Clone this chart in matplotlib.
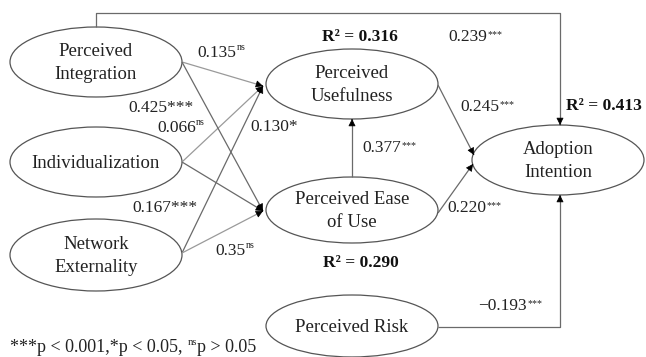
import matplotlib
matplotlib.use('Agg')
import matplotlib.pyplot as plt
from matplotlib.patches import Ellipse

plt.rcParams['font.family'] = ['Liberation Serif', 'DejaVu Serif']

# constructs of the model
constructs = ['Perceived\nIntegration', 'Individualization', 'Network\nExternality',
              'Perceived\nUsefulness', 'Perceived Ease\nof Use', 'Adoption\nIntention',
              'Perceived Risk']
# path coefficients (source, target), value, significance
paths = [(0, 3), (1, 3), (2, 3), (0, 4), (1, 4), (2, 4), (3, 5), (4, 5), (4, 3), (0, 5), (6, 5)]
coefs = ['0.135', '0.066', '0.130', '0.425', '0.167', '0.35', '0.245', '0.220', '0.377', '0.239', '\u22120.193']
sig = ['ns', 'ns', '*', '***', '***', 'ns', '***', '***', '***', '***', '***']
sig_sup = [True, True, False, False, False, True, True, True, True, True, True]
# explained variance
r2_nodes = [3, 4, 5]
r2_vals = [0.316, 0.290, 0.413]

# layout (pixels)
centers = [(96, 62), (96, 162), (96, 255), (352, 84), (352, 210), (558, 160), (352, 326)]
sizes = [(172, 70), (172, 70), (172, 72), (172, 70), (172, 66), (172, 70), (172, 62)]
label_pos = [(197, 52), (157, 127), (250, 126), (128, 107), (132, 207), (215, 250),
             (460, 106), (447, 207), (362, 147), (448, 36), (478, 305)]
r2_pos = [(360, 37), (361, 263), (604, 106)]
line_col = '#6a6a6a'
light_col = '#9a9a9a'
txt_col = '#222222'

fig = plt.figure(figsize=(6.46, 3.57), dpi=100)
ax = fig.add_axes([0, 0, 1, 1])
ax.set_xlim(0, 646)
ax.set_ylim(357, 0)
ax.axis('off')
renderer = fig.canvas.get_renderer()

for (cx, cy), (w, h), name in zip(centers, sizes, constructs):
    ax.add_patch(Ellipse((cx, cy), w, h, fill=False, ec='#555555', lw=0.9))
    ax.text(cx, cy + 1, name, ha='center', va='center', fontsize=13.5,
            color=txt_col, linespacing=1.45)


def arrow(pts, col):
    xs = [p[0] for p in pts]
    ys = [p[1] for p in pts]
    ax.plot(xs, ys, color=col, lw=0.9, solid_capstyle='butt')
    (x0, y0), (x1, y1) = pts[-2], pts[-1]
    ax.annotate('', xy=(x1, y1), xytext=(x1 - (x1 - x0) * 0.01, y1 - (y1 - y0) * 0.01),
                arrowprops=dict(arrowstyle='-|>', color='black', lw=0.5,
                                mutation_scale=11, shrinkA=0, shrinkB=0))


def right_edge(t):
    bb = t.get_window_extent(renderer)
    return ax.transData.inverted().transform((bb.x1, bb.y0))[0]


def label(x, y, base, sup=None, size=12.5):
    # y is the baseline (1 data unit = 1 pixel)
    t = ax.text(x, y, base, ha='left', va='baseline', fontsize=size, color=txt_col)
    x1 = right_edge(t)
    if sup:
        s = ax.text(x1 + 0.5, y - (7 if sup == 'ns' else 4), sup, ha='left', va='baseline',
                    fontsize=size * 0.58, color=txt_col)
        x1 = right_edge(s)
    return x1


pu_in = (263, 86)
peou_in = (263, 211)
for k, (s, t) in enumerate(paths):
    sx, sy = centers[s]
    sw, sh = sizes[s]
    col = light_col if sig[k] == 'ns' else line_col
    if t == 3 and s < 3:
        pts = [(sx + sw / 2, sy if s != 2 else sy - 2), pu_in]
    elif t == 4:
        pts = [(sx + sw / 2, sy if s != 2 else sy - 2), peou_in]
    elif s == 3:
        pts = [(sx + sw / 2, sy + 1), (474, 155)]
    elif s == 4 and t == 5:
        pts = [(sx + sw / 2, sy + 3), (473, 164)]
    elif s == 4 and t == 3:
        pts = [(sx, sy - sh / 2), (sx, centers[3][1] + sizes[3][1] / 2)]
    elif s == 0:
        tx = 560
        pts = [(sx, sy - sh / 2), (sx, 13), (tx, 13), (tx, centers[5][1] - sizes[5][1] / 2)]
    else:
        tx = 560
        pts = [(sx + sw / 2, sy + 1), (tx, sy + 1), (tx, centers[5][1] + sizes[5][1] / 2)]
    arrow(pts, col)

    lx, ly = label_pos[k]
    if sig_sup[k]:
        label(lx, ly + 5, coefs[k], sig[k])
    else:
        label(lx, ly + 5, coefs[k] + sig[k])

for n, v, (x, y) in zip(r2_nodes, r2_vals, r2_pos):
    ax.text(x, y, 'R\u00b2 = %.3f' % v, ha='center', va='center', fontsize=12.5,
            fontweight='bold', color='#111111')

# footnote
xe = label(10, 352, '***p < 0.001,*p < 0.05, ', 'ns', size=13)
label(xe + 0.5, 352, 'p > 0.05', size=13)

fig.savefig('out.png', dpi=100)
